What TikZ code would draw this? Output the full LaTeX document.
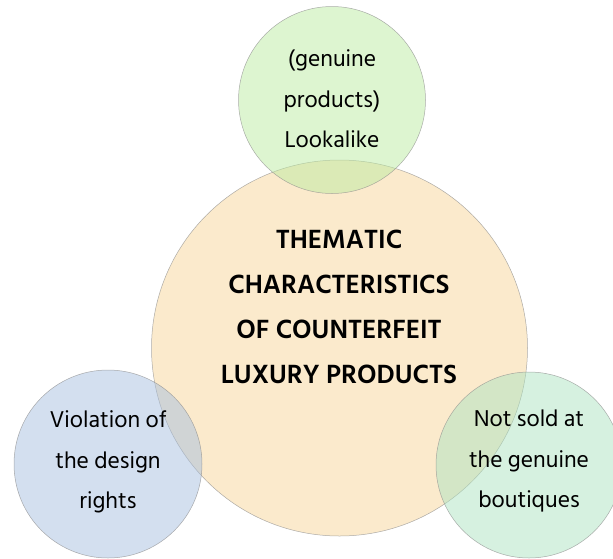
\documentclass[tikz,border=0pt]{standalone}
\usepackage{fontspec}
\setmainfont{Hind Siliguri}
\definecolor{bigc}{RGB}{247,213,153}
\definecolor{topc}{RGB}{187,235,161}
\definecolor{leftc}{RGB}{167,191,223}
\definecolor{rightc}{RGB}{173,227,193}
\begin{document}
\begin{tikzpicture}[x=1pt,y=-1pt,
  bubble/.style={circle,draw=black!45,line width=0.5pt,draw opacity=0.7,fill opacity=0.5,text opacity=1,inner sep=0pt},
  smalltxt/.style={align=center,font=\fontsize{23.5}{40.5}\selectfont},
  bigtxt/.style={align=center,font=\bfseries\fontsize{27}{45}\selectfont}]
\useasboundingbox (0,0) rectangle (613,558);
\clip (0,0) rectangle (613,558);
\node[bubble,fill=bigc,minimum size=376pt] (big) at (339.5,348) {};
\node[bubble,fill=topc,minimum size=187pt] (top) at (332,100) {};
\node[bubble,fill=leftc,minimum size=188pt] (left) at (108,464) {};
\node[bubble,fill=rightc,minimum size=186pt] (right) at (529,465) {};
\node[bigtxt] (bigt) at (339,307) {THEMATIC\\CHARACTERISTICS\\OF COUNTERFEIT\\LUXURY PRODUCTS};
\node[smalltxt] (topt) at (332,99) {(genuine\\products)\\Lookalike};
\node[smalltxt] (leftt) at (108,462) {Violation of\\the design\\rights};
\node[smalltxt] (rightt) at (529,461) {Not sold at\\the genuine\\boutiques};
\end{tikzpicture}
\end{document}
